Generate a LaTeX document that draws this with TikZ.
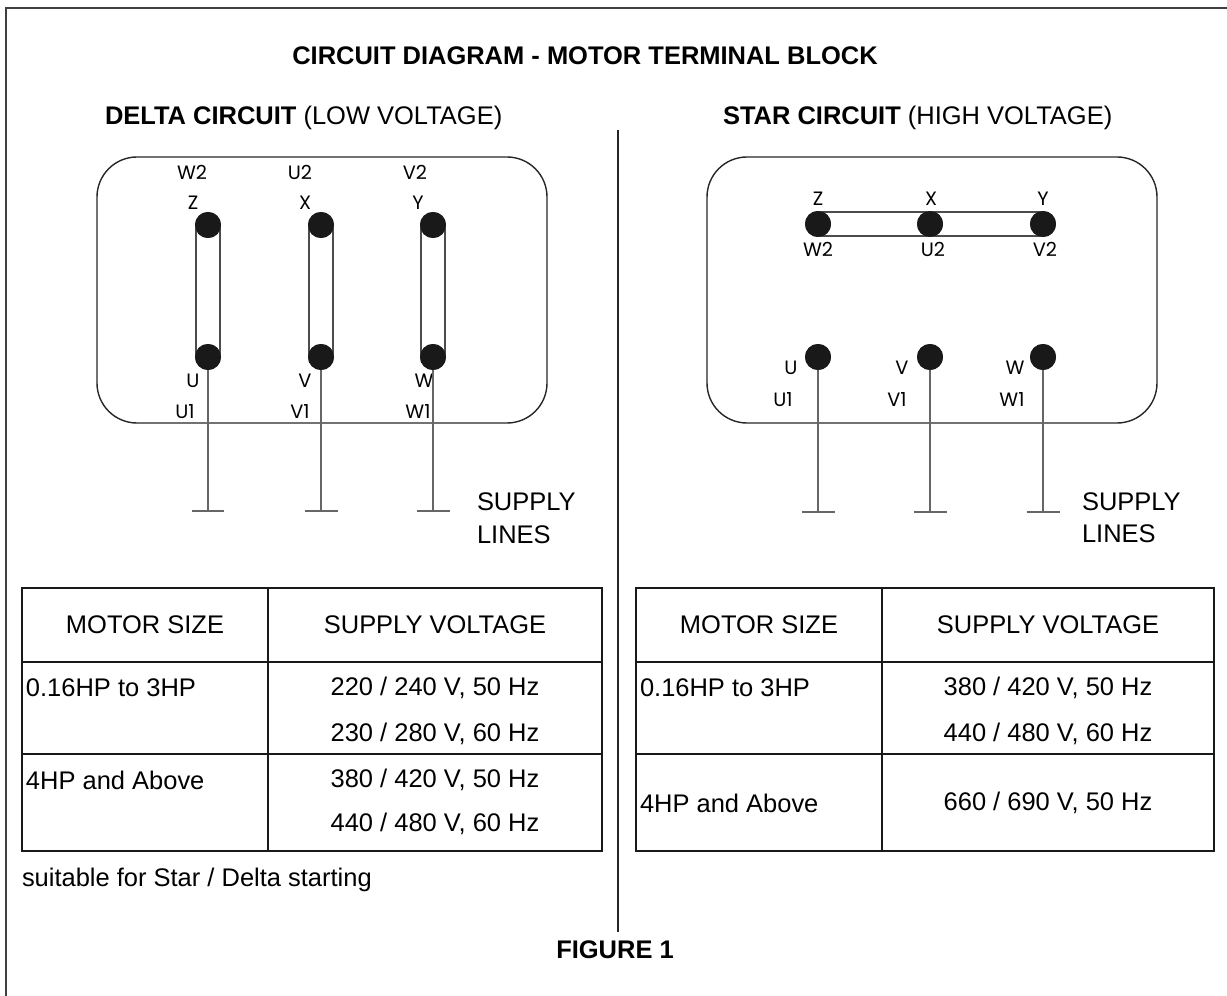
\documentclass[tikz,border=0pt]{standalone}
\usepackage{fontspec}
\setmainfont{Liberation Sans}
\newfontfamily\termfont{Poppins}
\begin{document}
\begin{tikzpicture}[x=0.02cm,y=-0.02cm,
  every node/.style={inner sep=0pt, outer sep=0pt},
  body/.style={font=\fontsize{14.5}{17}\selectfont},
  bhead/.style={font=\bfseries\fontsize{14.5}{17}\selectfont},
  tlab/.style={font=\termfont\fontsize{11}{13}\selectfont},
  term/.style={circle, fill=black!90, minimum size=0.52cm},
  link/.style={draw=black!70, line width=0.7pt},
  supply/.style={draw=black!60, line width=0.7pt},
  frame/.style={draw=black!75, line width=1pt},
  grid/.style={draw=black!90, line width=1.1pt},
  divider/.style={draw=black!85, line width=1pt}]
\useasboundingbox (0,0) rectangle (1227,996);
% outer frame (cropped)
\draw[frame] (6,1010) -- (6,8) -- (1240,8);
% title
\node[bhead] (title) at (585,56) {CIRCUIT DIAGRAM - MOTOR TERMINAL BLOCK};
\node[body, anchor=west] (dhead) at (105,118) {\textbf{DELTA CIRCUIT} (LOW VOLTAGE)};
\node[body, anchor=west] (shead) at (723,118) {\textbf{STAR CIRCUIT} (HIGH VOLTAGE)};
% divider
\coordinate (divtop) at (618,130);
\coordinate (divbot) at (618,932);
\draw[divider] (divtop) -- (divbot);

% ---------------- DELTA ----------------
\draw[draw=black!85, line width=0.8pt, rounded corners=0.8cm] (97,157) rectangle (547,423);
\node[term] (dz) at (208,225) {};
\node[term] (dx) at (321,225) {};
\node[term] (dy) at (433,225) {};
\node[term] (du) at (208,357) {};
\node[term] (dv) at (321,357) {};
\node[term] (dw) at (433,357) {};
\foreach \a/\b in {dz/du, dx/dv, dy/dw}{
  \draw[link] ([xshift=-0.24cm]\a.center) -- ([xshift=-0.24cm]\b.center);
  \draw[link] ([xshift=0.24cm]\a.center) -- ([xshift=0.24cm]\b.center);
}
\node[term] at (dz) {};\node[term] at (dx) {};\node[term] at (dy) {};
\node[tlab] (dlw2) at (192,172) {W2};
\node[tlab] (dlu2) at (300,172) {U2};
\node[tlab] (dlv2) at (415,172) {V2};
\node[tlab] (dlz) at (193,203) {Z};
\node[tlab] (dlx) at (305,203) {X};
\node[tlab] (dly) at (418,203) {Y};
\node[tlab] (dlu) at (193,381) {U};
\node[tlab] (dlv) at (305,381) {V};
\node[tlab] (dlw) at (424,381) {W};
\node[tlab] (dlu1) at (185,412) {U1};
\node[tlab] (dlv1) at (300,412) {V1};
\node[tlab] (dlw1) at (418,412) {W1};
\coordinate (dsu) at (208,511);
\coordinate (dsv) at (321,511);
\coordinate (dsw) at (433,511);
\foreach \a/\b in {du/dsu, dv/dsv, dw/dsw}{
  \draw[supply] (\a.center) -- (\b);
  \draw[supply] ([xshift=-0.33cm]\b) -- ([xshift=0.33cm]\b);
}
\node[term] at (du) {};\node[term] at (dv) {};\node[term] at (dw) {};
\node[body, anchor=west] (dsup) at (477,502) {SUPPLY};
\node[body, anchor=west] (dlin) at (477,535) {LINES};

% ---------------- STAR ----------------
\draw[draw=black!85, line width=0.8pt, rounded corners=0.8cm] (707,157) rectangle (1157,423);
\node[term] (sz) at (818,224) {};
\node[term] (sx) at (930,224) {};
\node[term] (sy) at (1043,224) {};
\draw[link] ([yshift=0.24cm]sz.center) -- ([yshift=0.24cm]sy.center);
\draw[link] ([yshift=-0.24cm]sz.center) -- ([yshift=-0.24cm]sy.center);
\node[term] at (sz) {};\node[term] at (sx) {};\node[term] at (sy) {};
\node[term] (su) at (818,357) {};
\node[term] (sv) at (930,357) {};
\node[term] (sw) at (1043,357) {};
\node[tlab] (slz) at (818,199) {Z};
\node[tlab] (slx) at (931,199) {X};
\node[tlab] (sly) at (1043,199) {Y};
\node[tlab] (slw2) at (818,249) {W2};
\node[tlab] (slu2) at (933,249) {U2};
\node[tlab] (slv2) at (1045,249) {V2};
\node[tlab] (slu) at (791,368) {U};
\node[tlab] (slv) at (902,368) {V};
\node[tlab] (slw) at (1015,368) {W};
\node[tlab] (slu1) at (783,400) {U1};
\node[tlab] (slv1) at (897,400) {V1};
\node[tlab] (slw1) at (1012,400) {W1};
\coordinate (ssu) at (818,512);
\coordinate (ssv) at (930,512);
\coordinate (ssw) at (1043,512);
\foreach \a/\b in {su/ssu, sv/ssv, sw/ssw}{
  \draw[supply] (\a.center) -- (\b);
  \draw[supply] ([xshift=-0.33cm]\b) -- ([xshift=0.33cm]\b);
}
\node[term] at (su) {};\node[term] at (sv) {};\node[term] at (sw) {};
\node[body, anchor=west] (ssup) at (1082,502) {SUPPLY};
\node[body, anchor=west] (slin) at (1082,534) {LINES};

% ---------------- LEFT TABLE ----------------
\draw[grid] (22,588) rectangle (602,851);
\draw[grid] (22,662) -- (602,662);
\draw[grid] (22,754) -- (602,754);
\draw[grid] (268,588) -- (268,851);
\node[body] (lh1) at (145,625) {MOTOR SIZE};
\node[body] (lh2) at (435,625) {SUPPLY VOLTAGE};
\node[body, anchor=west] (lr1) at (26,688) {0.16HP to 3HP};
\node[body] (lv1) at (435,688) {220 / 240 V, 50 Hz};
\node[body] (lv2) at (435,734) {230 / 280 V, 60 Hz};
\node[body, anchor=west] (lr2) at (26,780) {4HP and Above};
\node[body] (lv3) at (435,780) {380 / 420 V, 50 Hz};
\node[body] (lv4) at (435,824) {440 / 480 V, 60 Hz};
\node[body, anchor=west] (note) at (22,880) {suitable for Star / Delta starting};

% ---------------- RIGHT TABLE ----------------
\draw[grid] (636,588) rectangle (1214,851);
\draw[grid] (636,662) -- (1214,662);
\draw[grid] (636,754) -- (1214,754);
\draw[grid] (882,588) -- (882,851);
\node[body] (rh1) at (759,625) {MOTOR SIZE};
\node[body] (rh2) at (1048,625) {SUPPLY VOLTAGE};
\node[body, anchor=west] (rr1) at (640,688) {0.16HP to 3HP};
\node[body] (rv1) at (1048,688) {380 / 420 V, 50 Hz};
\node[body] (rv2) at (1048,734) {440 / 480 V, 60 Hz};
\node[body, anchor=west] (rr2) at (640,803) {4HP and Above};
\node[body] (rv3) at (1048,803) {660 / 690 V, 50 Hz};

% figure caption
\node[bhead] (fig) at (615,950) {FIGURE 1};
\end{tikzpicture}
\end{document}
